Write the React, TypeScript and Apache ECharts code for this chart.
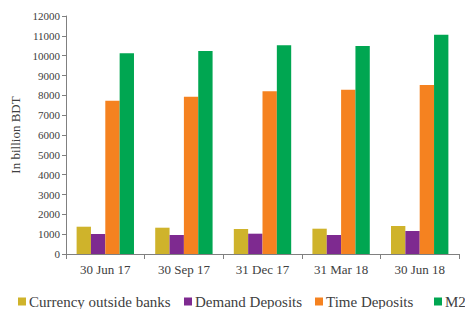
import React, { useEffect, useRef } from "react";
import * as echarts from "echarts";

const categories = ["30 Jun 17", "30 Sep 17", "31 Dec 17", "31 Mar 18", "30 Jun 18"];
const currencyOutsideBanks = [1376, 1326, 1261, 1276, 1412];
const demandDeposits = [1008, 958, 1024, 958, 1160];
const timeDeposits = [7730, 7932, 8205, 8285, 8522];
const m2 = [10120, 10237, 10524, 10489, 11059];
const seriesNames = ["Currency outside banks", "Demand Deposits", "Time Deposits", "M2"];
const seriesColors = ["#CFB32B", "#7E2A90", "#F58220", "#00A651"];
const legendLefts = [18, 184, 315, 434];

const FONT = "serif";

export default function App() {
  const ref = useRef<HTMLDivElement>(null);
  useEffect(() => {
    if (!ref.current) return;
    const chart = echarts.init(ref.current, null, { renderer: "svg" });
    const data = [currencyOutsideBanks, demandDeposits, timeDeposits, m2];
    chart.setOption({
      animation: false,
      textStyle: { fontFamily: FONT },
      grid: { left: 66, right: 6, top: 16, bottom: 55 },
      legend: seriesNames.map((n, i) => ({
        data: [n],
        left: legendLefts[i],
        top: 294,
        padding: 0,
        itemWidth: 8,
        itemHeight: 8,
        icon: "rect",
        textStyle: { fontFamily: FONT, fontSize: 15, color: "#404040", padding: [0, 0, 0, -2] },
      })),
      xAxis: {
        type: "category",
        data: categories,
        axisLine: { lineStyle: { color: "#808080", width: 1 } },
        axisTick: { show: true, alignWithLabel: false, length: 5, lineStyle: { color: "#808080" } },
        axisLabel: { fontFamily: FONT, fontSize: 13, color: "#404040", margin: 9 },
      },
      yAxis: {
        type: "value",
        min: 0,
        max: 12000,
        interval: 1000,
        name: "In billion BDT",
        nameLocation: "middle",
        nameGap: 43,
        nameTextStyle: { fontFamily: FONT, fontSize: 13, color: "#404040" },
        splitLine: { show: false },
        axisLine: { show: true, lineStyle: { color: "#808080", width: 1 } },
        axisTick: { show: true, length: 4, lineStyle: { color: "#808080" } },
        axisLabel: {
          fontFamily: FONT,
          fontSize: 11,
          color: "#404040",
          margin: 6,
          formatter: (v: number) => String(v),
        },
      },
      series: seriesNames.map((n, i) => ({
        name: n,
        type: "bar",
        data: data[i],
        itemStyle: { color: seriesColors[i] },
        barGap: "0%",
        barCategoryGap: "27%",
      })),
    });
    return () => chart.dispose();
  }, []);
  return <div ref={ref} style={{ width: 465, height: 309, position: "absolute", left: 0, top: 0 }} />;
}
